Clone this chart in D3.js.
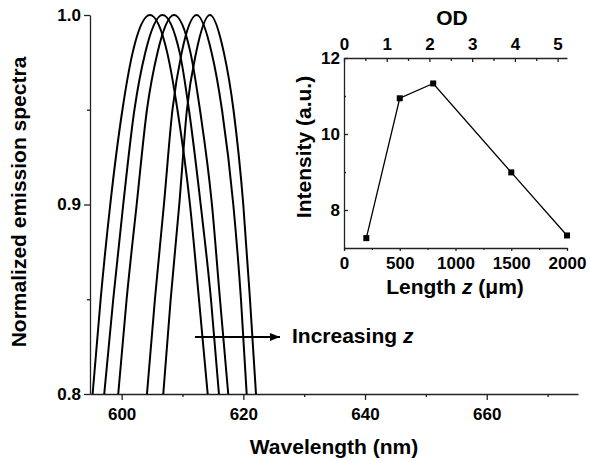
<!DOCTYPE html>
<html lang="en">
<head>
  <meta charset="utf-8">
  <title>Emission spectra vs length</title>
  <script src="https://cdn.jsdelivr.net/npm/d3@7"></script>
  <style>
    body { margin: 0; background: #fff; }
    svg text { font-family: "Liberation Sans", Arial, sans-serif; font-weight: bold; fill: #000; }
    .axis path, .axis line { stroke: #222; stroke-width: 1.3; }
  </style>
</head>
<body>
  <script>
    // data
    // main panel: wavelength (nm) where each spectrum crosses the given level, rising and falling side
    const levels = [0.8, 0.85, 0.9, 0.95, 0.98, 1.0];
    const riseNm = [
      [595.23, 596.55, 598.13, 600.13, 601.8, 604.65],
      [597.14, 598.62, 600.26, 602.10, 603.87, 606.71],
      [599.44, 600.82, 602.47, 604.16, 605.88, 608.60],
      [604.16, 605.47, 606.95, 608.35, 609.86, 612.33],
      [606.84, 608.06, 609.47, 610.73, 612.23, 614.52]
    ];
    const fallNm = [
      [614.14, 612.71, 611.23, 609.17, 607.5, 604.65],
      [615.99, 614.68, 612.99, 611.06, 609.55, 606.71],
      [617.52, 616.16, 614.84, 612.87, 611.32, 608.60],
      [620.55, 619.61, 618.35, 616.49, 614.8, 612.33],
      [622.08, 621.09, 619.99, 618.38, 616.81, 614.52]
    ];
    const wlTicks = [600, 620, 640, 660];
    const normTicks = [0.8, 0.9, 1.0];

    // inset: intensity vs length
    const lengths = [200, 500, 800, 1500, 2000];
    const intensity = [7.26, 10.94, 11.33, 8.99, 7.33];
    const lenTicks = [0, 500, 1000, 1500, 2000];
    const odTicks = [0, 1, 2, 3, 4, 5];
    const intTicks = [8, 10, 12];

    const width = 589, height = 461;
    const svg = d3.select("body").append("svg")
      .attr("width", width).attr("height", height);

    // ---------- main panel ----------
    const x = d3.scaleLinear().domain([594.8, 675]).range([90, 578]);
    const y = d3.scaleLinear().domain([0.8, 1.0]).range([394, 15]);

    const xMinor = d3.range(610, 675, 20);
    const yMinor = [0.85, 0.95];

    svg.append("g").attr("class", "axis")
      .attr("transform", "translate(0,394)")
      .call(d3.axisBottom(x).tickValues(xMinor).tickSize(3).tickFormat(""))
      .call(g => g.select(".domain").remove());
    svg.append("g").attr("class", "axis")
      .attr("transform", "translate(0,394)")
      .call(d3.axisBottom(x).tickValues(wlTicks).tickSize(6).tickPadding(8).tickSizeOuter(0)
        .tickFormat(d3.format("d")))
      .call(g => g.selectAll("text").style("font-size", "17px"));

    svg.append("g").attr("class", "axis")
      .attr("transform", "translate(90,0)")
      .call(d3.axisLeft(y).tickValues(yMinor).tickSize(3).tickFormat(""))
      .call(g => g.select(".domain").remove());
    svg.append("g").attr("class", "axis")
      .attr("transform", "translate(90,0)")
      .call(d3.axisLeft(y).tickValues(normTicks).tickSize(6).tickPadding(3).tickSizeOuter(0)
        .tickFormat(d3.format(".1f")))
      .call(g => g.selectAll("text").style("font-size", "17px"));

    const spectra = riseNm.map((r, i) => {
      const up = r.map((w, j) => [w, levels[j]]);
      const down = fallNm[i].slice(0, -1).map((w, j) => [w, levels[j]]).reverse();
      return up.concat(down);
    });
    const line = d3.line().x(d => x(d[0])).y(d => y(d[1])).curve(d3.curveMonotoneX);
    svg.selectAll("path.spec").data(spectra).join("path")
      .attr("class", "spec")
      .attr("d", line)
      .attr("fill", "none").attr("stroke", "#000").attr("stroke-width", 2);

    svg.append("text")
      .attr("transform", "translate(26,202) rotate(-90)")
      .attr("text-anchor", "middle").style("font-size", "21px")
      .text("Normalized emission spectra");
    svg.append("text")
      .attr("x", 334).attr("y", 454)
      .attr("text-anchor", "middle").style("font-size", "21px")
      .text("Wavelength (nm)");

    // arrow + annotation
    svg.append("defs").append("marker")
      .attr("id", "head").attr("viewBox", "0 0 10 10")
      .attr("refX", 10).attr("refY", 5)
      .attr("markerWidth", 10).attr("markerHeight", 10)
      .attr("markerUnits", "userSpaceOnUse").attr("orient", "auto")
      .append("path").attr("d", "M0,1L10,5L0,9Z").attr("fill", "#000");
    svg.append("line")
      .attr("x1", 195).attr("y1", 337).attr("x2", 280).attr("y2", 337)
      .attr("stroke", "#000").attr("stroke-width", 1.8)
      .attr("marker-end", "url(#head)");
    const inc = svg.append("text").attr("x", 292).attr("y", 343).style("font-size", "21px");
    inc.append("tspan").text("Increasing ");
    inc.append("tspan").style("font-style", "italic").text("z");

    // ---------- inset ----------
    const ix = d3.scaleLinear().domain([0, 2000]).range([344, 567]);
    const iod = d3.scaleLinear().domain([0, 5.22]).range([344, 567]);
    const iy = d3.scaleLinear().domain([7, 12]).range([248, 58]);

    svg.append("g").attr("class", "axis")
      .attr("transform", "translate(0,248)")
      .call(d3.axisBottom(ix).tickValues([250, 750, 1250, 1750]).tickSize(2).tickFormat(""))
      .call(g => g.select(".domain").remove());
    svg.append("g").attr("class", "axis")
      .attr("transform", "translate(0,248)")
      .call(d3.axisBottom(ix).tickValues(lenTicks).tickSize(3).tickPadding(6).tickSizeOuter(0)
        .tickFormat(d3.format("d")))
      .call(g => g.selectAll("text").style("font-size", "17px"));

    svg.append("g").attr("class", "axis")
      .attr("transform", "translate(0,58)")
      .call(d3.axisTop(iod).tickValues(d3.range(0.5, 5, 1)).tickSize(-3).tickFormat(""))
      .call(g => g.select(".domain").remove());
    svg.append("g").attr("class", "axis")
      .attr("transform", "translate(0,58)")
      .call(d3.axisTop(iod).tickValues(odTicks).tickSize(-4).tickPadding(8).tickSizeOuter(0)
        .tickFormat(d3.format("d")))
      .call(g => g.selectAll("text").style("font-size", "17px"));

    svg.append("g").attr("class", "axis")
      .attr("transform", "translate(344,0)")
      .call(d3.axisLeft(iy).tickValues([7, 9, 11]).tickSize(-2).tickFormat(""))
      .call(g => g.select(".domain").remove());
    svg.append("g").attr("class", "axis")
      .attr("transform", "translate(344,0)")
      .call(d3.axisLeft(iy).tickValues(intTicks).tickSize(-4).tickPadding(4).tickSizeOuter(0)
        .tickFormat(d3.format("d")))
      .call(g => g.selectAll("text").style("font-size", "17px"));

    const pts = lengths.map((l, i) => [l, intensity[i]]);
    svg.append("path")
      .datum(pts)
      .attr("d", d3.line().x(d => ix(d[0])).y(d => iy(d[1])))
      .attr("fill", "none").attr("stroke", "#000").attr("stroke-width", 1.3);
    svg.selectAll("rect.pt").data(pts).join("rect")
      .attr("class", "pt")
      .attr("x", d => ix(d[0]) - 3).attr("y", d => iy(d[1]) - 3)
      .attr("width", 6).attr("height", 6).attr("fill", "#000");

    svg.append("text")
      .attr("transform", "translate(311,147) rotate(-90)")
      .attr("text-anchor", "middle").style("font-size", "21px")
      .text("Intensity (a.u.)");
    svg.append("text")
      .attr("x", 452).attr("y", 25)
      .attr("text-anchor", "middle").style("font-size", "21px")
      .text("OD");
    const len = svg.append("text").attr("x", 455).attr("y", 294)
      .attr("text-anchor", "middle").style("font-size", "21px");
    len.append("tspan").text("Length ");
    len.append("tspan").style("font-style", "italic").text("z");
    len.append("tspan").text(" (\u03BCm)");
  </script>
</body>
</html>
